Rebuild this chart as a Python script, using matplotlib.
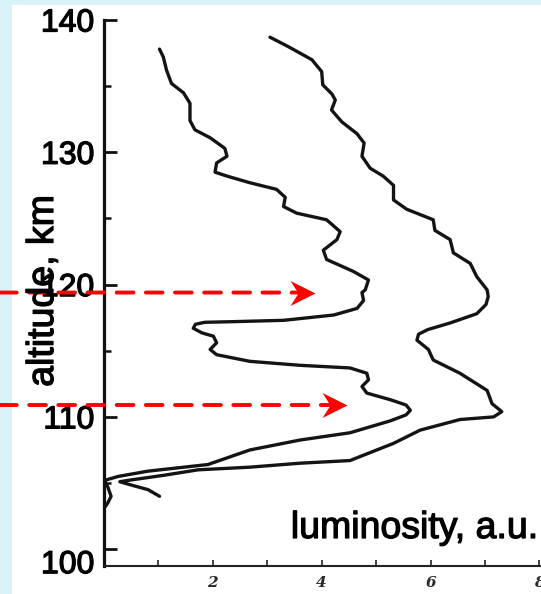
import matplotlib
matplotlib.use("Agg")
import matplotlib.pyplot as plt
import matplotlib.patheffects as pe
from matplotlib.patches import Rectangle
from matplotlib.path import Path
from matplotlib.transforms import ScaledTranslation
from matplotlib.ticker import MultipleLocator, FixedLocator

# Luminosity profiles (arbitrary units) versus altitude (km)
inner_lum = [1.02, 1.09, 1.15, 1.24, 1.46, 1.58, 1.58, 1.67, 1.95, 2.22,
             2.26, 2.07, 2.04, 2.26, 2.68, 3.17, 3.33, 3.30, 3.54, 4.09,
             4.34, 4.28, 4.03, 4.09, 4.58, 4.86, 4.80, 4.74, 4.77, 4.65,
             4.22, 3.30, 2.38, 1.85, 1.68, 1.64, 1.80, 2.01, 2.07, 1.95,
             2.07, 2.68, 3.60, 4.52, 4.83, 4.86, 4.74, 4.83, 5.26, 5.55,
             5.63, 5.55, 5.26, 4.52, 3.60, 2.68, 1.91, 0.81, 0.26, 0.01,
             0.07, 0.13, 0.07, 0.02]
inner_alt = [137.8, 137.2, 136.2, 135.2, 134.5, 133.7, 132.4, 131.7, 131.1, 130.3,
             129.7, 129.2, 128.5, 128.2, 127.7, 127.2, 126.6, 125.9, 125.4, 124.9,
             124.0, 123.4, 122.6, 121.9, 121.0, 120.35, 119.6, 119.4, 118.8, 118.2,
             117.7, 117.3, 117.2, 117.15, 117.0, 116.7, 116.35, 116.1, 115.6, 115.1,
             114.7, 114.2, 113.9, 113.7, 113.3, 112.8, 112.3, 111.8, 111.3, 110.9,
             110.5, 110.15, 109.7, 108.8, 108.25, 107.5, 106.4, 105.9, 105.5, 105.2,
             104.7, 104.0, 103.5, 103.2]

outer_lum = [3.05, 3.38, 3.82, 4.00, 4.02, 4.19, 4.25, 4.18, 4.37, 4.65,
             4.78, 4.74, 4.89, 5.13, 5.32, 5.32, 5.56, 6.05, 6.08, 6.36,
             6.42, 6.73, 6.85, 7.04, 7.06, 7.02, 6.85, 6.36, 5.95, 5.78,
             5.75, 5.96, 6.05, 6.54, 7.04, 7.13, 7.31, 7.16, 6.54, 5.81,
             5.32, 4.52, 3.60, 2.68, 1.73, 1.12, 0.44, 0.29, 0.50, 0.81,
             1.02]
outer_alt = [138.7, 138.0, 137.0, 136.1, 135.1, 134.4, 133.95, 133.2, 132.3, 131.4,
             130.7, 129.7, 128.8, 128.2, 127.5, 126.4, 125.7, 124.9, 124.1, 123.4,
             122.4, 121.6, 120.6, 119.6, 119.1, 118.5, 117.8, 117.1, 116.6, 116.25,
             115.8, 115.1, 114.3, 113.3, 112.0, 111.0, 110.4, 110.0, 109.8, 109.0,
             108.0, 106.7, 106.5, 106.2, 106.0, 105.6, 105.2, 105.1, 104.85, 104.5,
             104.0]

# Marked emission layers (arrows)
arrow_alt = [119.4, 110.9]
arrow_tip = [3.88, 4.46]

y_ticks = [100, 110, 120, 130, 140]
x_ticks = [2, 4, 6, 8]
x_tick_labels = ["2", "4", "6", "8"]

W, H = 541, 594
fig = plt.figure(figsize=(W / 100, H / 100), dpi=100)
fig.patch.set_facecolor("#d9f2f7")
fig.patches.append(Rectangle((12 / W, 0), 1 - 12 / W, 1 - 5 / H,
                             transform=fig.transFigure, facecolor="white",
                             edgecolor="none", zorder=-10))

ax = fig.add_axes([104 / W, 28 / H, 1 - 104 / W, 546 / H])
ax.set_facecolor("none")
ax.set_xlim(0, 8.03)
ax.set_ylim(98.73, 140)

for s in ("top", "right"):
    ax.spines[s].set_visible(False)
ax.spines["left"].set_linewidth(2.3)
ax.spines["left"].set_color("#111111")
ax.spines["bottom"].set_linewidth(1.5)
ax.spines["bottom"].set_color("#222222")

heavy = [pe.withStroke(linewidth=0.9, foreground="black")]

ax.yaxis.set_major_locator(FixedLocator(y_ticks))
ax.yaxis.set_minor_locator(MultipleLocator(5))
ax.set_yticklabels([str(v) for v in y_ticks], fontsize=23,
                   family="Liberation Sans", color="black")
ax.tick_params(axis="y", which="major", direction="in", length=9, width=2,
               pad=7, color="#111111")
ax.tick_params(axis="y", which="minor", direction="in", length=5, width=1.8,
               color="#111111")
for lbl in ax.get_yticklabels():
    lbl.set_path_effects(heavy)
# the lowest label sits a little below its tick
low = ax.yaxis.get_major_ticks()[0].label1
low.set_transform(low.get_transform()
                  + ScaledTranslation(0, -9 / 72, fig.dpi_scale_trans))

ax.xaxis.set_major_locator(FixedLocator(x_ticks))
ax.xaxis.set_minor_locator(MultipleLocator(1))
ax.set_xticklabels(x_tick_labels, fontsize=11, family="DejaVu Serif",
                   style="italic", fontweight="bold", color="#2a2a2a")
ax.tick_params(axis="x", which="both", direction="in", length=4, width=1.2,
               pad=7, color="#222222")

for lum, alt in ((inner_lum, inner_alt), (outer_lum, outer_alt)):
    ax.plot(lum, alt, color="#141414", lw=2.4, solid_joinstyle="round",
            solid_capstyle="round", zorder=3)

ax.text(0.993, 0.0513, "luminosity, a.u.", transform=ax.transAxes,
        ha="right", va="baseline", fontsize=27, family="Liberation Sans",
        color="black", path_effects=heavy)
fig.text(43 / W, 1 - 291 / H, "altitude, km", rotation=90, ha="center",
         va="center", fontsize=27, family="Liberation Sans", color="black",
         path_effects=heavy)

# notched arrow head, tip at the marker position
head = Path([(0, 0), (-1, 0.5), (-0.68, 0), (-1, -0.5), (0, 0)],
            [Path.MOVETO, Path.LINETO, Path.LINETO, Path.LINETO, Path.CLOSEPOLY])
for alt, tip in zip(arrow_alt, arrow_tip):
    ax.annotate("", xy=(tip, alt), xycoords="data",
                xytext=(0, alt), textcoords=("figure fraction", "data"),
                arrowprops=dict(arrowstyle="-", color="#ff0000", lw=2.8,
                                linestyle=(0, (4.3, 3.2)),
                                shrinkA=0, shrinkB=12),
                annotation_clip=False, zorder=5)
    ax.plot([tip], [alt], marker=head, ms=36, color="#ff0000", mew=0,
            clip_on=False, zorder=6)

fig.savefig("out.png", dpi=100, facecolor=fig.get_facecolor())
